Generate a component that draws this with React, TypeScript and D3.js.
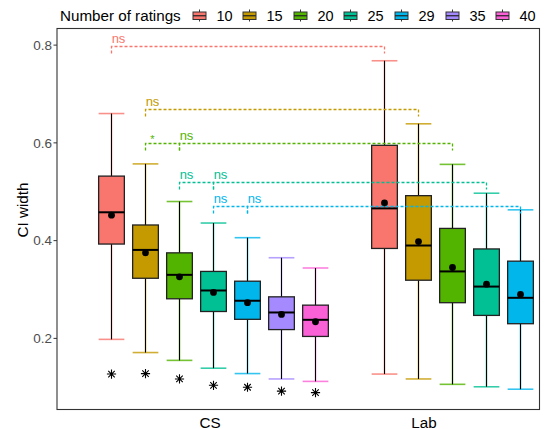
import React from "react";
import * as d3 from "d3";

// ---------- data ----------
const ratings = ["10", "15", "20", "25", "29", "35", "40"];
const colors = ["#F8766D", "#C49A00", "#53B400", "#00C094", "#00B6EB", "#A58AFF", "#FB61D7"];
const sources = ["CS", "Lab"];

const csLow = [0.198, 0.171, 0.155, 0.139, 0.128, 0.117, 0.112];
const csQ1 = [0.393, 0.323, 0.281, 0.255, 0.239, 0.218, 0.204];
const csMed = [0.458, 0.381, 0.330, 0.298, 0.277, 0.253, 0.238];
const csQ3 = [0.532, 0.432, 0.375, 0.337, 0.317, 0.285, 0.268];
const csHigh = [0.660, 0.557, 0.480, 0.436, 0.406, 0.365, 0.344];
const csMean = [0.452, 0.375, 0.326, 0.294, 0.273, 0.249, 0.234];
const csStar = [0.127, 0.128, 0.117, 0.104, 0.100, 0.092, 0.089];

const labLow = [0.127, 0.117, 0.106, 0.101, 0.096];
const labQ1 = [0.384, 0.319, 0.273, 0.247, 0.230];
const labMed = [0.466, 0.390, 0.337, 0.306, 0.283];
const labQ3 = [0.595, 0.492, 0.425, 0.383, 0.358];
const labHigh = [0.768, 0.639, 0.556, 0.497, 0.463];
const labMean = [0.477, 0.398, 0.345, 0.311, 0.290];

const yTicks = [0.2, 0.4, 0.6, 0.8];

// comparison brackets
const brColor = [0, 1, 2, 2, 3, 3, 4, 4];
const brFromSrc = ["CS", "CS", "CS", "CS", "CS", "CS", "CS", "CS"];
const brFromIdx = [0, 1, 1, 2, 2, 3, 3, 4];
const brToSrc = ["Lab", "Lab", "CS", "Lab", "CS", "Lab", "CS", "Lab"];
const brToIdx = [0, 1, 2, 2, 3, 3, 4, 4];
const brLevel = [0.799, 0.670, 0.599, 0.599, 0.520, 0.520, 0.470, 0.470];
const brLabel = ["ns", "ns", "*", "ns", "ns", "ns", "ns", "ns"];

// ---------- layout ----------
const W = 545;
const H = 429;
const panel = { left: 57, right: 539.5, top: 28.5, bottom: 409.5 };
const FONT = "'Liberation Sans', Arial, Helvetica, sans-serif";

type Box = {
  src: string; idx: number; low: number; q1: number; med: number; q3: number; high: number; mean: number; star?: number;
};

const boxes: Box[] = [
  ...csLow.map((_, i) => ({
    src: "CS", idx: i, low: csLow[i], q1: csQ1[i], med: csMed[i], q3: csQ3[i], high: csHigh[i], mean: csMean[i], star: csStar[i],
  })),
  ...labLow.map((_, i) => ({
    src: "Lab", idx: i, low: labLow[i], q1: labQ1[i], med: labMed[i], q3: labQ3[i], high: labHigh[i], mean: labMean[i],
  })),
];

export default function App() {
  const y = d3.scaleLinear().domain([0.0545, 0.834]).range([panel.bottom, panel.top]);
  // slot positions: CS boxes use slots 0..6, Lab boxes slots 8..12
  const slot = d3.scaleLinear().domain([0, 12]).range([111, 519.8]);
  const groupStart: Record<string, number> = { CS: 0, Lab: 8 };
  const xBox = (src: string, i: number) => Math.round(slot(groupStart[src] + i)) + 0.5;
  const xCat = d3.scalePoint<string>().domain(sources).range([210, 424]);
  const bw = (slot(1) - slot(0)) * 0.755;
  const hw = bw / 2;

  const legendStep = 50.6;
  const legendX0 = 198.5;

  const starPath = (cx: number, cy: number, r: number) => {
    const d = r * Math.SQRT1_2;
    return `M${cx - r},${cy}L${cx + r},${cy}M${cx},${cy - r}L${cx},${cy + r}M${cx - d},${cy - d}L${cx + d},${cy + d}M${cx - d},${cy + d}L${cx + d},${cy - d}`;
  };

  return (
    <svg width={W} height={H} style={{ position: "absolute", left: 0, top: 0, background: "#fff" }} fontFamily={FONT}>
      <rect x={0} y={0} width={W} height={H} fill="#fff" />

      {/* legend */}
      <text x={60} y={20.5} fontSize={15.2} fill="#000">Number of ratings</text>
      {ratings.map((r, i) => {
        const cx = Math.round(legendX0 + i * legendStep) + 0.5;
        return (
          <g key={"lg" + r}>
            <line x1={cx} x2={cx} y1={9.5} y2={21.5} stroke="#333" strokeWidth={1} />
            <rect x={cx - 6.5} y={12} width={13} height={7.5} fill={colors[i]} stroke="#333" strokeWidth={1} />
            <line x1={cx - 6.5} x2={cx + 6.5} y1={15.75} y2={15.75} stroke="#222" strokeWidth={1.2} />
            <text x={cx + 17} y={20.5} fontSize={14.5} fill="#000">{r}</text>
          </g>
        );
      })}

      {/* y axis ticks & labels */}
      {yTicks.map((t) => (
        <g key={"yt" + t}>
          <line x1={panel.left - 3.5} x2={panel.left} y1={y(t)} y2={y(t)} stroke="#333" strokeWidth={1} />
          <text x={panel.left - 5} y={y(t) + 4.8} fontSize={13.5} fill="#4D4D4D" textAnchor="end">{t.toFixed(1)}</text>
        </g>
      ))}
      <text
        transform={`translate(27.5,210) rotate(-90)`}
        fontSize={15.2}
        fill="#000"
        textAnchor="middle"
      >CI width</text>

      {/* x axis labels */}
      {sources.map((s) => (
        <text key={"xl" + s} x={xCat(s)} y={427.5} fontSize={15.2} fill="#000" textAnchor="middle">{s}</text>
      ))}

      {/* boxes */}
      {boxes.map((b) => {
        const cx = xBox(b.src, b.idx);
        const col = colors[b.idx];
        return (
          <g key={b.src + b.idx}>
            {/* coloured errorbar */}
            <line x1={cx} x2={cx} y1={y(b.high)} y2={y(b.low)} stroke={col} strokeOpacity={0.3} strokeWidth={2.6} />
            <line x1={cx - hw} x2={cx + hw} y1={y(b.high)} y2={y(b.high)} stroke={col} strokeOpacity={0.8} strokeWidth={1.6} />
            <line x1={cx - hw} x2={cx + hw} y1={y(b.low)} y2={y(b.low)} stroke={col} strokeOpacity={0.8} strokeWidth={1.6} />
            {/* black whiskers */}
            <line x1={cx} x2={cx} y1={y(b.high)} y2={y(b.q3)} stroke="#000" strokeWidth={1} />
            <line x1={cx} x2={cx} y1={y(b.q1)} y2={y(b.low)} stroke="#000" strokeWidth={1} />
            {/* box */}
            <rect x={cx - hw} y={y(b.q3)} width={bw} height={y(b.q1) - y(b.q3)} fill={col} stroke="#222" strokeWidth={1.3} />
            <line x1={cx - hw} x2={cx + hw} y1={y(b.med)} y2={y(b.med)} stroke="#000" strokeWidth={2} />
            <circle cx={cx} cy={y(b.mean)} r={3.4} fill="#000" />
            {b.star !== undefined && (
              <path d={starPath(cx, y(b.star), 4.6)} stroke="#000" strokeWidth={1.1} fill="none" />
            )}
          </g>
        );
      })}

      {/* comparison brackets */}
      {brLevel.map((lv, k) => {
        const x1 = xBox(brFromSrc[k], brFromIdx[k]);
        const x2 = xBox(brToSrc[k], brToIdx[k]);
        const yy = Math.round(y(lv)) + 0.5;
        const col = colors[brColor[k]];
        const tick = 7;
        return (
          <g key={"br" + k}>
            <path
              d={`M${x1},${yy + tick}L${x1},${yy}L${x2},${yy}L${x2},${yy + tick}`}
              fill="none"
              stroke={col}
              strokeWidth={1.3}
              strokeDasharray="3,2"
            />
            <text
              x={x1 + 7}
              y={brLabel[k] === "*" ? yy - 1 : yy - 3.5}
              fontSize={brLabel[k] === "*" ? 11 : 13}
              fill={col}
              textAnchor="middle"
            >{brLabel[k]}</text>
          </g>
        );
      })}

      {/* panel border */}
      <rect
        x={panel.left}
        y={panel.top}
        width={panel.right - panel.left}
        height={panel.bottom - panel.top}
        fill="none"
        stroke="#333"
        strokeWidth={1.1}
      />
    </svg>
  );
}
